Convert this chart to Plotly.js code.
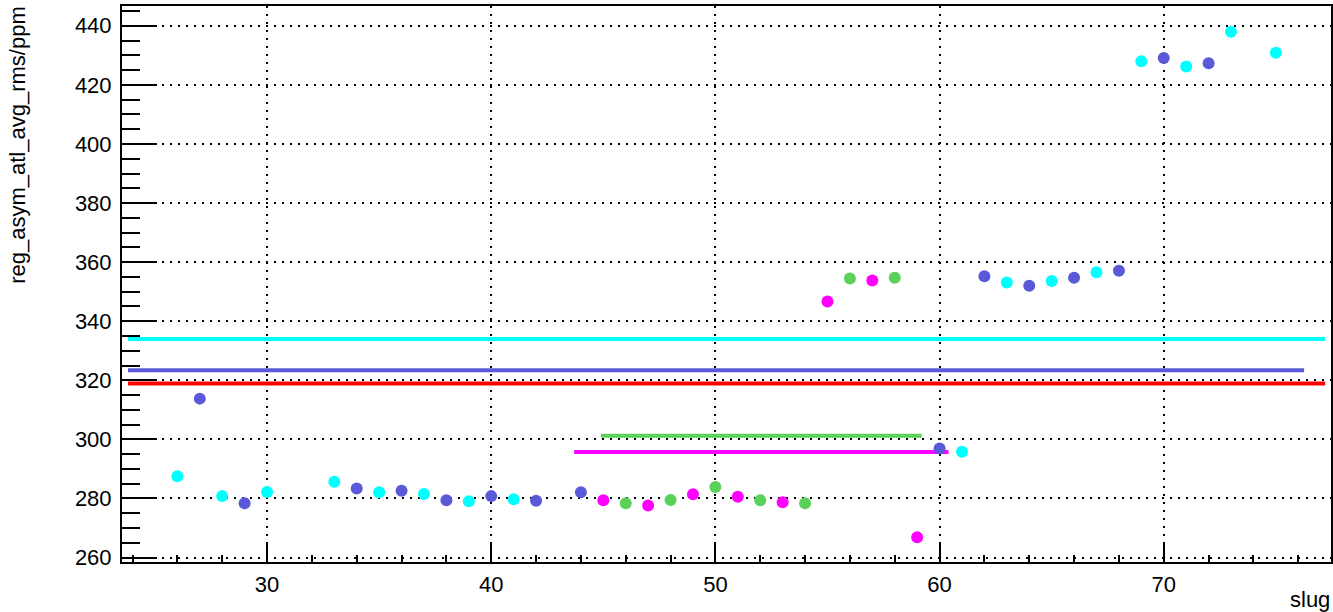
<!DOCTYPE html>
<html>
<head>
<meta charset="utf-8">
<script src="https://cdn.plot.ly/plotly-3.0.1.min.js"></script>
<style>
html,body{margin:0;padding:0;background:#fff;}
#chart{width:1333px;height:612px;}
</style>
</head>
<body>
<div id="chart"></div>
<script>
// Data
const cyanX = [26, 28, 30, 33, 35, 37, 39, 41, 61, 63, 65, 67, 69, 71, 73, 75];
const cyanY = [287.5, 280.8, 282.2, 285.7, 282.1, 281.5, 279.1, 279.7, 295.8, 353.1, 353.6, 356.6, 428.0, 426.2, 438.0, 430.9];
const blueX = [27, 29, 34, 36, 38, 40, 42, 44, 60, 62, 64, 66, 68, 70, 72];
const blueY = [313.8, 278.4, 283.4, 282.6, 279.4, 280.8, 279.2, 282.1, 296.9, 355.2, 352.0, 354.7, 357.1, 429.1, 427.3];
const magentaX = [45, 47, 49, 51, 53, 55, 57, 59];
const magentaY = [279.4, 277.6, 281.4, 280.6, 278.7, 346.7, 353.8, 266.9];
const greenX = [46, 48, 50, 52, 54, 56, 58];
const greenY = [278.4, 279.5, 283.9, 279.4, 278.4, 354.5, 354.7];

// Horizontal average lines: [xStart, xEnd], level
const cyanLineX = [23.8, 77.2];    const cyanLineY = 334.0;
const blueLineX = [23.8, 76.26];   const blueLineY = 323.4;
const redLineX = [23.8, 77.2];     const redLineY = 318.9;
const greenLineX = [44.9, 59.2];   const greenLineY = 301.2;
const magentaLineX = [43.7, 60.4]; const magentaLineY = 295.7;

const xTitle = "slug";
const yTitle = "reg_asym_atl_avg_rms/ppm";

const CYAN = "#00ffff", BLUE = "#5a5ad9", RED = "#ff0000", GREEN = "#5ad25a", MAGENTA = "#ff00ff";

function hline(xs, yv, color, w) {
  return {x: xs, y: [yv, yv], mode: "lines", line: {color: color, width: w}, hoverinfo: "skip", showlegend: false};
}
function pts(xs, ys, color) {
  return {x: xs, y: ys, mode: "markers", marker: {color: color, size: 12, line: {width: 0}}, showlegend: false};
}

const traces = [
  hline(cyanLineX, cyanLineY, CYAN, 4),
  hline(blueLineX, blueLineY, BLUE, 4),
  hline(redLineX, redLineY, RED, 4),
  hline(greenLineX, greenLineY, GREEN, 4),
  hline(magentaLineX, magentaLineY, MAGENTA, 4),
  pts(cyanX, cyanY, CYAN),
  pts(blueX, blueY, BLUE),
  pts(magentaX, magentaY, MAGENTA),
  pts(greenX, greenY, GREEN)
];

const font = {family: "Liberation Sans, Arial, sans-serif", size: 22, color: "#000"};

const layout = {
  width: 1333, height: 612,
  margin: {l: 122, r: 2, t: 6, b: 50, pad: 0},
  paper_bgcolor: "#fff", plot_bgcolor: "#fff",
  font: font,
  showlegend: false,
  xaxis: {
    range: [23.53, 77.46],
    tick0: 0, dtick: 10,
    ticks: "inside", ticklen: 18, tickwidth: 2, tickcolor: "#000",
    minor: {dtick: 2, tick0: 0, ticks: "inside", ticklen: 7, tickwidth: 2, tickcolor: "#000", showgrid: false},
    showline: true, linecolor: "#000", linewidth: 2, mirror: true,
    showgrid: true, gridcolor: "#000", gridwidth: 2, griddash: "2px,6px",
    zeroline: false,
    tickfont: font,
    ticklabelstandoff: 2
  },
  yaxis: {
    range: [258.5, 446.7],
    tick0: 0, dtick: 20,
    ticks: "inside", ticklen: 35, tickwidth: 2, tickcolor: "#000",
    minor: {dtick: 5, tick0: 0, ticks: "inside", ticklen: 18, tickwidth: 2, tickcolor: "#000", showgrid: false},
    showline: true, linecolor: "#000", linewidth: 2, mirror: true,
    showgrid: true, gridcolor: "#000", gridwidth: 2, griddash: "2px,6px",
    zeroline: false,
    tickfont: font,
    ticklabelstandoff: 4
  },
  annotations: [
    {text: yTitle, xref: "paper", yref: "paper", x: -0.086, y: 1.004, xanchor: "center", yanchor: "top",
     textangle: -90, showarrow: false, font: font},
    {text: xTitle, xref: "paper", yref: "paper", x: 1.001, y: -0.068, xanchor: "right", yanchor: "middle",
     showarrow: false, font: font}
  ]
};

Plotly.newPlot("chart", traces, layout, {displayModeBar: false, staticPlot: true});
</script>
</body>
</html>
